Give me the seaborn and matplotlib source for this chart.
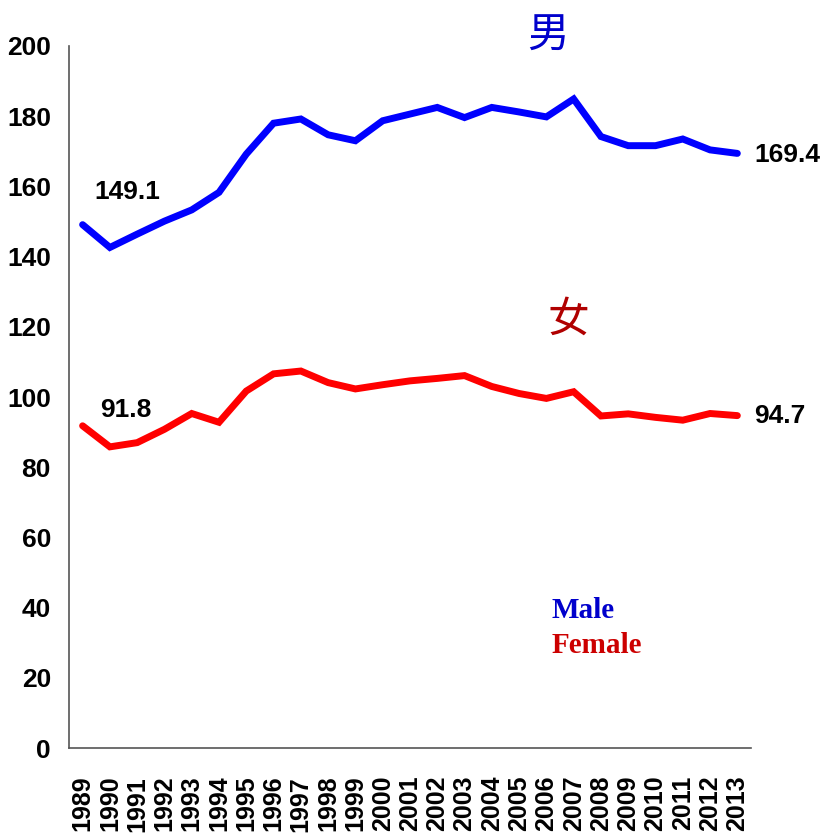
import numpy as np
import pandas as pd
import matplotlib
matplotlib.use("Agg")
import matplotlib.pyplot as plt
import seaborn as sns

# ---- data ----
years = list(range(1989, 2014))
male = [149.1, 142.6, 146.4, 150.1, 153.3, 158.3, 169.2, 178.0, 179.2, 174.7,
        173.0, 178.7, 180.6, 182.5, 179.6, 182.5, 181.2, 179.8, 184.9, 174.2,
        171.6, 171.6, 173.5, 170.4, 169.4]
female = [91.8, 85.8, 87.0, 90.8, 95.3, 92.8, 101.7, 106.6, 107.4, 104.1,
          102.3, 103.5, 104.6, 105.3, 106.1, 103.0, 101.0, 99.6, 101.5, 94.6,
          95.2, 94.2, 93.4, 95.3, 94.7]
y_ticks = list(range(0, 201, 20))

sns.set_style("white")
plt.rcParams["font.family"] = ["Liberation Sans", "DejaVu Sans"]
plt.rcParams["text.color"] = "black"
plt.rcParams["xtick.color"] = "black"
plt.rcParams["ytick.color"] = "black"

df = pd.DataFrame({"pos": np.arange(len(years)), "male": male, "female": female})

fig = plt.figure(figsize=(8.22, 8.33), dpi=100)
ax = fig.add_axes([0.0839, 0.102, 0.8297, 0.8428])

sns.lineplot(data=df, x="pos", y="male", color="#0000FF", linewidth=5, ax=ax,
             solid_joinstyle="miter", solid_capstyle="round")
sns.lineplot(data=df, x="pos", y="female", color="#FF0000", linewidth=5, ax=ax,
             solid_joinstyle="miter", solid_capstyle="round")

ax.set_xlim(-0.5, len(years) - 0.5)
ax.set_ylim(0, 200)
ax.set_xlabel("")
ax.set_ylabel("")

# axes look
for s in ["top", "right"]:
    ax.spines[s].set_visible(False)
for s in ["left", "bottom"]:
    ax.spines[s].set_color("#555555")
    ax.spines[s].set_linewidth(1.2)

num_size = 19
ax.set_yticks(y_ticks)
ax.set_yticklabels([str(v) for v in y_ticks], fontweight="bold", fontsize=num_size)
ax.tick_params(axis="y", direction="in", length=7, width=1.2, color="#555555",
               labelcolor="black", pad=13)

ax.set_xticks(np.arange(len(years)))
ax.set_xticklabels([str(y) for y in years], rotation=90, fontweight="bold", fontsize=18)
ax.set_xticks(np.arange(len(years)) + 0.5, minor=True)
ax.tick_params(axis="x", which="major", length=0, pad=20, labelcolor="black")
ax.tick_params(axis="x", which="minor", direction="in", length=8, width=1.2, color="#555555")

# value labels
ax.text(1.65, 158.4, "149.1", ha="center", va="center", fontweight="bold", fontsize=num_size)
ax.text(1.57, 96.3, "91.8", ha="center", va="center", fontweight="bold", fontsize=num_size)
ax.text(24.62, 169.0, "169.4", ha="left", va="center", fontweight="bold",
        fontsize=num_size, clip_on=False)
ax.text(24.62, 94.6, "94.7", ha="left", va="center", fontweight="bold",
        fontsize=num_size, clip_on=False)

# chinese labels
cjk = ["Noto Sans CJK TC", "DejaVu Sans"]
ax.text(17.07, 202.8, "男", ha="center", va="center", color="#0000CC",
        fontfamily=cjk, fontsize=30, fontweight="medium", clip_on=False)
ax.text(17.8, 121.9, "女", ha="center", va="center", color="#B00000",
        fontfamily=cjk, fontsize=30, fontweight="medium")

# legend-like text
ax.text(17.18, 39.3, "Male", ha="left", va="center", color="#0000CC",
        fontfamily="Liberation Serif", fontweight="bold", fontsize=21)
ax.text(17.18, 29.3, "Female", ha="left", va="center", color="#CC0000",
        fontfamily="Liberation Serif", fontweight="bold", fontsize=21)

fig.savefig("out.png", dpi=100)
